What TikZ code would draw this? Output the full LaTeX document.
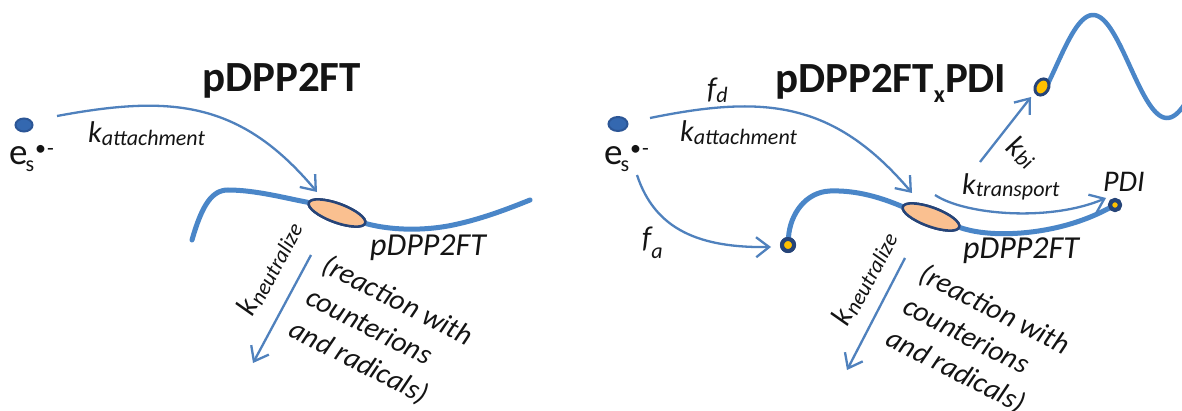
\documentclass[tikz,border=0pt]{standalone}
\usepackage{fontspec}
\setmainfont{Carlito}
\usetikzlibrary{arrows.meta,shapes.geometric}

\definecolor{arrowblue}{RGB}{79,129,189}
\definecolor{chainblue}{RGB}{74,134,200}
\definecolor{navy}{RGB}{38,68,120}
\definecolor{dotblue}{RGB}{52,104,176}
\definecolor{dotrim}{RGB}{44,86,150}
\definecolor{peach}{RGB}{250,192,144}
\definecolor{gold}{RGB}{255,192,0}
\definecolor{ink}{RGB}{20,20,20}

% font size in pt (one unit of the picture is 1pt)
\newcommand{\fsz}[2]{\fontsize{#1}{#2}\selectfont}
% rate symbol with a lowered subscript: {symbol}{subscript}{drop}
\newcommand{\rate}[3]{#1\raisebox{-#3pt}{\fsz{22}{22}#2}}

\tikzset{
  flow/.style={draw=arrowblue, line width=2.3pt,
    -{Straight Barb[length=13pt,width=20pt]}},
  chain/.style={draw=chainblue, line width=5pt, line cap=round},
  site/.style={ellipse, draw=navy, fill=peach, line width=2.5pt,
    minimum width=60pt, minimum height=19pt, inner sep=0pt, rotate=-20},
  carrier/.style={ellipse, draw=dotrim, fill=dotblue, line width=2pt,
    minimum width=17pt, minimum height=13pt, inner sep=0pt},
  endgrp/.style={circle, draw=navy, fill=gold, line width=4pt,
    minimum size=12pt, inner sep=0pt},
  lbl/.style={text=ink, inner sep=0pt, font=\fsz{30}{36}\itshape},
  title/.style={text=ink, inner sep=0pt, font=\fsz{43}{50}\bfseries},
  react/.style={text=ink, inner sep=0pt, font=\fsz{29}{36}\itshape,
    align=left, rotate=-27},
}

\begin{document}
\begin{tikzpicture}[x=1pt, y=-1pt]
\useasboundingbox (0,0) rectangle (1182,411);
\fill[white] (0,0) rectangle (1182,411);

% ---------------- left panel: pDPP2FT ----------------
\node[title, anchor=base west] (ltitle) at (202,92) {pDPP2FT};

\node[carrier] (ldot) at (24,125) {};
\node[text=ink, inner sep=0pt, font=\fsz{37}{40}, anchor=base west] (les) at (9,165)
  {e\kern-2pt\raisebox{-7pt}{\fsz{22}{22}s}\kern1pt\raisebox{9pt}{\fsz{22}{22}•\kern1pt-}};

\node[site] (lsite) at (337,213) {};
\coordinate (lchainA) at (192,240);
\coordinate (lchainB) at (530,200);
\draw[chain] (lchainA) .. controls (202,205) and (212,190) .. (228,190)
  .. controls (255,190) and (285,198) .. (lsite.west);
\draw[chain] (lsite.east) .. controls (390,230) and (420,231) .. (448,226)
  .. controls (480,220) and (510,208) .. (lchainB);
\node[site] at (lsite) {};

\coordinate (lattS) at (57,116);
\coordinate (lattE) at (317,192);
\draw[flow] (lattS) .. controls (170,95) and (240,100) .. (lattE);
\node[lbl, anchor=base west] (lkatt) at (88,143) {\rate{k}{attachment}{3}};

\node[lbl, anchor=base west, font=\fsz{32}{36}\itshape] (lpoly) at (370,256) {pDPP2FT};

\coordinate (lneuS) at (311,255);
\coordinate (lneuE) at (253,363);
\draw[flow] (lneuS) -- (lneuE);
\node[lbl, rotate=62] (lkneu) at (269,268) {\rate{k}{neutralize}{3}};
\node[react] (lreact) at (381,333) {(reaction with\\counterions\\and radicals)};

% ---------------- right panel: pDPP2FT_xPDI ----------------
\node[title, anchor=base west] (rtitle) at (775,93)
  {pDPP2FT\raisebox{-10pt}{\fsz{24}{24}x}PDI};

\node[carrier, minimum width=19pt, minimum height=14pt] (rdot) at (618,124) {};
\node[text=ink, inner sep=0pt, font=\fsz{37}{40}, anchor=base west] (res) at (604,165)
  {e\kern-2pt\raisebox{-7pt}{\fsz{22}{22}s}\kern1pt\raisebox{9pt}{\fsz{22}{22}•\kern1pt-}};

% free end of the wave (x measured from its crest at 1093)
\draw[chain, line width=4.5pt] plot[domain=-46:102, samples=80, smooth]
  ({1093+\x}, {66.5 - 51.5*cos(\x*2.4324)});
\node[ellipse, draw=navy, fill=gold, line width=3pt, minimum width=17pt,
  minimum height=13pt, inner sep=0pt, rotate=60] (wdot) at (1042,87) {};

\node[site] (rsite) at (931,217) {};
\node[endgrp] (adot) at (788,245) {};
\node[endgrp, minimum size=10pt] (pdot) at (1115,205) {};
\draw[chain] (adot) .. controls (790,215) and (805,192) .. (830,191)
  .. controls (857,190) and (882,198) .. (rsite.west);
\draw[chain] (rsite.east) .. controls (985,236) and (1020,235) .. (1050,229)
  .. controls (1080,223) and (1100,213) .. (pdot);
\node[site] at (rsite) {};
\node[endgrp] at (adot) {};
\node[endgrp, minimum size=10pt] at (pdot) {};

% electron arrival at a donor site
\coordinate (rattS) at (650,118);
\coordinate (rattE) at (912,193);
\draw[flow] (rattS) .. controls (763,95) and (833,100) .. (rattE);
\node[lbl, anchor=base west] (fd) at (707,99) {\rate{f}{d}{4}};
\node[lbl, anchor=base west] (rkatt) at (680,142) {\rate{k}{attachment}{3}};

% electron arrival at an acceptor end group
\coordinate (faS) at (637,175);
\coordinate (faE) at (771,247);
\draw[flow] (faS) .. controls (655,230) and (700,248) .. (faE);
\node[lbl, anchor=base west] (fa) at (642,248) {\rate{f}{a}{11}};

% transport along the chain
\coordinate (trS) at (935,195);
\coordinate (trE) at (1106,198);
\draw[flow] (trS) .. controls (965,215) and (1050,222) .. (trE);
\node[lbl, anchor=base west] (rktr) at (962,195) {\rate{k}{transport}{2}};
\node[lbl, anchor=base west] (pdi) at (1103,192) {PDI};

% bimolecular transfer
\coordinate (biS) at (980,162);
\coordinate (biE) at (1031,97);
\draw[flow] (biS) -- (biE);
\node[lbl, rotate=-40] (rkbi) at (1022,152) {\rate{k}{bi}{3}};

\node[lbl, anchor=base west, font=\fsz{32}{36}\itshape] (rpoly) at (963,259) {pDPP2FT};

\coordinate (rneuS) at (905,258);
\coordinate (rneuE) at (847,370);
\draw[flow] (rneuS) -- (rneuE);
\node[lbl, rotate=62] (rkneu) at (864,278) {\rate{k}{neutralize}{3}};
\node[react] (rreact) at (978,342) {(reaction with\\counterions\\and radicals)};
\end{tikzpicture}
\end{document}
